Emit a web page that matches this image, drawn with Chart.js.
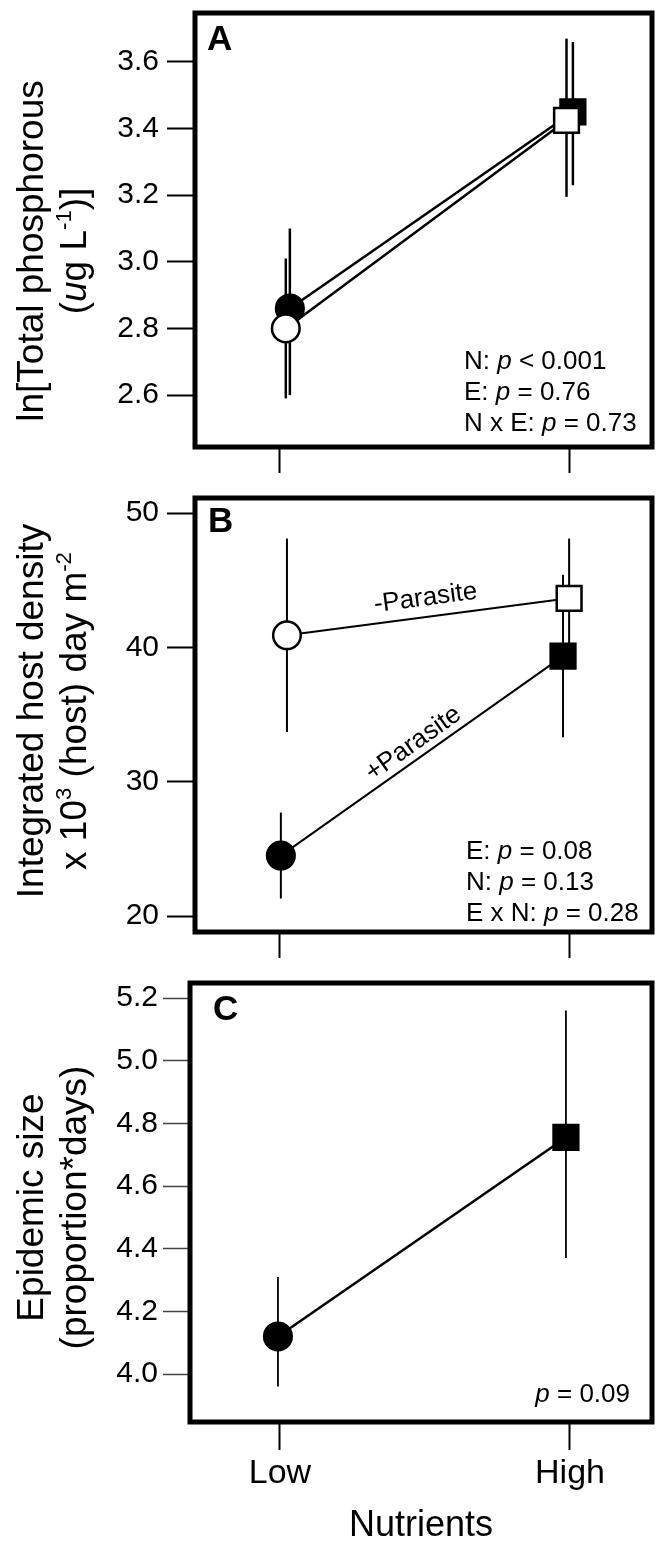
<!DOCTYPE html>
<html>
<head>
<meta charset="utf-8">
<script src="https://cdn.jsdelivr.net/npm/chart.js@4.4.1/dist/chart.umd.min.js"></script>
<style>
  html, body { margin: 0; padding: 0; background: #fff; }
  #wrap { position: relative; width: 658px; height: 1548px; }
  canvas { position: absolute; left: 0; }
</style>
</head>
<body>
<div id="wrap">
  <canvas id="chartA" width="658" height="490" style="top:0px"></canvas>
  <canvas id="chartB" width="658" height="490" style="top:490px"></canvas>
  <canvas id="chartC" width="658" height="568" style="top:980px"></canvas>
</div>
<script>
// categories
const nutrients = ['Low', 'High'];
const nutrientPos = [1, 2];

// A: ln total phosphorous, +parasite (filled) and -parasite (open)
const phosTicks = [2.6, 2.8, 3.0, 3.2, 3.4, 3.6];
const phosWithMean = [2.86, 3.45];
const phosWithLo = [2.60, 3.23];
const phosWithHi = [3.10, 3.66];
const phosWithoutMean = [2.80, 3.425];
const phosWithoutLo = [2.59, 3.195];
const phosWithoutHi = [3.01, 3.67];

// B: integrated host density
const hostTicks = [20, 30, 40, 50];
const hostWithMean = [24.5, 39.35];
const hostWithLo = [21.3, 33.3];
const hostWithHi = [27.7, 45.4];
const hostWithoutMean = [40.9, 43.65];
const hostWithoutLo = [33.7, 39.5];
const hostWithoutHi = [48.1, 48.1];

// C: epidemic size
const epiTicks = [4.0, 4.2, 4.4, 4.6, 4.8, 5.0, 5.2];
const epiMean = [4.12, 4.755];
const epiLo = [3.96, 4.37];
const epiHi = [4.31, 5.16];

// texts
const titleA = [
  [{t: 'ln[Total phosphorous'}],
  [{t: '('}, {t: 'u', it: true}, {t: 'g L'}, {t: '-1', sup: true}, {t: ')]'}]
];
const titleB = [
  [{t: 'Integrated host density'}],
  [{t: 'x 10'}, {t: '3', sup: true}, {t: ' (host) day m'}, {t: '-2', sup: true}]
];
const titleC = [
  [{t: 'Epidemic size'}],
  [{t: '(proportion*days)'}]
];
const statsA = [
  [{t: 'N: '}, {t: 'p', it: true}, {t: ' < 0.001'}],
  [{t: 'E: '}, {t: 'p', it: true}, {t: ' = 0.76'}],
  [{t: 'N x E: '}, {t: 'p', it: true}, {t: ' = 0.73'}]
];
const statsB = [
  [{t: 'E: '}, {t: 'p', it: true}, {t: ' = 0.08'}],
  [{t: 'N: '}, {t: 'p', it: true}, {t: ' = 0.13'}],
  [{t: 'E x N: '}, {t: 'p', it: true}, {t: ' = 0.28'}]
];
const statsC = [
  [{t: 'p', it: true}, {t: ' = 0.09'}]
];

const FONT = '"Liberation Sans", Arial, Helvetica, sans-serif';
const TITLE_SIZE = 37;
Chart.defaults.font.family = FONT;
Chart.defaults.color = '#000';

function setFont(ctx, size, italic, bold) {
  ctx.font = (italic ? 'italic ' : '') + (bold ? 'bold ' : '') + size + 'px ' + FONT;
}

// draw a line of text made of runs (italic / superscript pieces)
function drawRuns(ctx, runs, x, y, size, align) {
  const parts = runs.map(r => {
    const s = r.sup ? size * 0.6 : size;
    setFont(ctx, s, r.it);
    return {r: r, s: s, w: ctx.measureText(r.t).width};
  });
  const total = parts.reduce((a, p) => a + p.w, 0);
  let cx = align === 'center' ? x - total / 2 : (align === 'right' ? x - total : x);
  ctx.textAlign = 'left';
  ctx.textBaseline = 'alphabetic';
  parts.forEach(p => {
    setFont(ctx, p.s, p.r.it);
    ctx.fillText(p.r.t, cx, y - (p.r.sup ? size * 0.42 : 0));
    cx += p.w;
  });
}

const panelText = {
  id: 'panelText',
  afterDraw(chart, args, o) {
    if (!o || !o.letter) return;
    const ctx = chart.ctx, a = chart.chartArea;
    ctx.save();
    ctx.fillStyle = '#000';
    ctx.strokeStyle = '#000';
    ctx.lineWidth = 5;
    ctx.strokeRect(a.left, a.top, a.right - a.left, a.bottom - a.top);

    setFont(ctx, 35, false, true);
    ctx.textAlign = 'left';
    ctx.textBaseline = 'middle';
    ctx.fillText(o.letter, a.left + o.letterAt[0], a.top + o.letterAt[1]);

    // y axis title, two rotated lines
    const midY = (a.top + a.bottom) / 2 + o.titleShift;
    o.title.forEach((line, i) => {
      ctx.save();
      ctx.translate(o.titleX[i], midY);
      ctx.rotate(-Math.PI / 2);
      drawRuns(ctx, line, 0, TITLE_SIZE * 0.36, TITLE_SIZE, 'center');
      ctx.restore();
    });

    // statistics block
    o.stats.forEach((line, i) => {
      const cy = a.bottom - o.statsBottom - (o.stats.length - 1 - i) * 31;
      const x = o.statsAlign === 'right' ? a.right + o.statsX : a.left + o.statsX;
      drawRuns(ctx, line, x, cy + 26 * 0.36, 26, o.statsAlign);
    });

    // labels along the connecting lines
    (o.lineLabels || []).forEach(l => {
      const pts = chart.getDatasetMeta(l.dataset).data;
      const p0 = pts[0], p1 = pts[1];
      const dx = p1.x - p0.x, dy = p1.y - p0.y, len = Math.hypot(dx, dy);
      const cx = (p0.x + p1.x) / 2 + dy / len * l.offset;
      const cy = (p0.y + p1.y) / 2 - dx / len * l.offset;
      ctx.save();
      ctx.translate(cx, cy);
      ctx.rotate(Math.atan2(dy, dx));
      drawRuns(ctx, [{t: l.text}], 0, 26 * 0.36, 26, 'center');
      ctx.restore();
    });
    ctx.restore();
  }
};
Chart.register(panelText);

function meanSet(mean, shift, fill, lineW, order) {
  return {
    data: nutrientPos.map((x, i) => ({x: x + shift[i], y: mean[i]})),
    showLine: true,
    borderColor: '#000',
    borderWidth: lineW,
    pointStyle: ['circle', 'rect'],
    pointRadius: [13.8, 17.5],
    pointBackgroundColor: fill,
    pointBorderColor: '#000',
    pointBorderWidth: 2.5,
    order: order
  };
}

function errorSets(lo, hi, shift, lineW) {
  return nutrientPos.map((x, i) => ({
    data: [{x: x + shift[i], y: lo[i]}, {x: x + shift[i], y: hi[i]}],
    showLine: true,
    borderColor: '#000',
    borderWidth: lineW,
    pointRadius: 0,
    order: 10
  }));
}

function makeOptions(c) {
  return {
    responsive: false,
    animation: false,
    events: [],
    layout: {autoPadding: false, padding: {left: 0, right: 658 - c.right, top: c.top, bottom: 0}},
    plugins: {
      legend: {display: false},
      tooltip: {enabled: false},
      panelText: c.text
    },
    scales: {
      x: {
        type: 'linear',
        min: c.xMin,
        max: c.xMax,
        afterBuildTicks: s => { s.ticks = nutrientPos.map(v => ({value: v})); },
        afterFit: s => { s.height = c.xHeight; s.paddingLeft = 0; s.paddingRight = 0; },
        border: {display: false},
        grid: {drawOnChartArea: false, drawTicks: true, tickLength: c.xTick, tickWidth: 2, tickColor: '#000'},
        ticks: {
          display: c.showX,
          padding: 3,
          maxRotation: 0,
          autoSkip: false,
          font: {size: 34},
          color: '#000',
          callback: v => nutrients[nutrientPos.indexOf(v)] || ''
        },
        title: {display: c.showX, text: 'Nutrients', font: {size: 36}, color: '#000', padding: {top: 0, bottom: 0}}
      },
      y: {
        min: c.yMin,
        max: c.yMax,
        afterBuildTicks: s => { s.ticks = c.yTicks.map(v => ({value: v})); },
        afterFit: s => { s.width = c.left; s.paddingTop = 0; s.paddingBottom = 0; },
        border: {display: false},
        grid: {drawOnChartArea: false, drawTicks: true, tickLength: c.yTick, tickWidth: c.yTickW, tickColor: c.yTickColor},
        ticks: {
          padding: c.yPad,
          font: {size: 30},
          color: '#000',
          callback: v => v.toFixed(c.dec)
        }
      }
    }
  };
}

// Panel A
new Chart(document.getElementById('chartA'), {
  type: 'scatter',
  data: {
    datasets: [
      meanSet(phosWithoutMean, [0.02, -0.012], '#fff', 2.5, 1),
      meanSet(phosWithMean, [0.034, 0.01], '#000', 2.5, 2),
      ...errorSets(phosWithoutLo, phosWithoutHi, [0.02, -0.012], 2.5),
      ...errorSets(phosWithLo, phosWithHi, [0.034, 0.01], 2.5)
    ]
  },
  options: makeOptions({
    top: 13, left: 195, right: 652, xHeight: 43, xTick: 26,
    xMin: 0.7069, xMax: 2.2828, showX: false,
    yMin: 2.444, yMax: 3.747, yTicks: phosTicks, dec: 1,
    yTick: 28, yTickW: 2, yTickColor: '#000', yPad: 8,
    text: {
      letter: 'A', letterAt: [12, 27],
      title: titleA, titleX: [30, 73], titleShift: 21,
      stats: statsA, statsX: 269, statsAlign: 'left', statsBottom: 25
    }
  })
});

// Panel B
new Chart(document.getElementById('chartB'), {
  type: 'scatter',
  data: {
    datasets: [
      meanSet(hostWithoutMean, [0.024, -0.003], '#fff', 2, 1),
      meanSet(hostWithMean, [0.003, -0.024], '#000', 2, 2),
      ...errorSets(hostWithoutLo, hostWithoutHi, [0.024, -0.003], 2),
      ...errorSets(hostWithLo, hostWithHi, [0.003, -0.024], 2)
    ]
  },
  options: makeOptions({
    top: 8, left: 195, right: 652, xHeight: 48, xTick: 26,
    xMin: 0.7069, xMax: 2.2828, showX: false,
    yMin: 18.81, yMax: 51.12, yTicks: hostTicks, dec: 0,
    yTick: 28, yTickW: 2, yTickColor: '#000', yPad: 8,
    text: {
      letter: 'B', letterAt: [13, 24],
      title: titleB, titleX: [30, 73], titleShift: -4,
      stats: statsB, statsX: 271, statsAlign: 'left', statsBottom: 20,
      lineLabels: [
        {dataset: 0, text: '-Parasite', offset: 21},
        {dataset: 1, text: '+Parasite', offset: 17}
      ]
    }
  })
});

// Panel C
new Chart(document.getElementById('chartC'), {
  type: 'scatter',
  data: {
    datasets: [
      meanSet(epiMean, [-0.007, -0.014], '#000', 2.5, 1),
      ...errorSets(epiLo, epiHi, [-0.007, -0.014], 1.8)
    ]
  },
  options: makeOptions({
    top: 3, left: 190, right: 652, xHeight: 126, xTick: 28,
    xMin: 0.6897, xMax: 2.2828, showX: true,
    yMin: 3.847, yMax: 5.248, yTicks: epiTicks, dec: 1,
    yTick: 27, yTickW: 1.5, yTickColor: '#444', yPad: 5,
    text: {
      letter: 'C', letterAt: [23, 27],
      title: titleC, titleX: [30, 73], titleShift: 5,
      stats: statsC, statsX: -22, statsAlign: 'right', statsBottom: 29
    }
  })
});
</script>
</body>
</html>
